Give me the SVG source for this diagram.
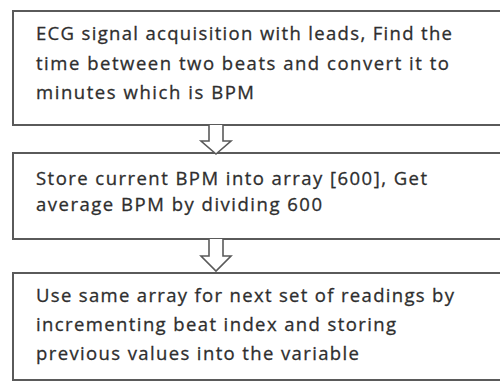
<svg xmlns="http://www.w3.org/2000/svg" width="500" height="381" viewBox="0 0 500 381">
<style>
.box{fill:#fff;stroke:#5a5a5a;stroke-width:2}
.arr{fill:#fff;stroke:#5a5a5a;stroke-width:1.6;stroke-linejoin:miter}
text{font-family:"Open Sans","Liberation Sans",Arial,sans-serif;font-size:18.5px;fill:#2e2e2e;stroke:#2e2e2e;stroke-width:0.3}
</style>
<rect width="500" height="381" fill="#fff"/>
<g id="node1">
<rect class="box" x="13" y="11" width="500" height="114"/>
<text x="36" y="40" textLength="416" lengthAdjust="spacing">ECG signal acquisition with leads, Find the</text>
<text x="36" y="70" textLength="413" lengthAdjust="spacing">time between two beats and convert it to</text>
<text x="36" y="99" textLength="218" lengthAdjust="spacing">minutes which is BPM</text>
</g>
<g id="node2">
<rect class="box" x="13" y="153" width="500" height="86"/>
<text x="36" y="185" textLength="391" lengthAdjust="spacing">Store current BPM into array [600], Get</text>
<text x="36" y="211" textLength="286" lengthAdjust="spacing">average BPM by dividing 600</text>
</g>
<g id="node3">
<rect class="box" x="13" y="273" width="500" height="107"/>
<text x="36" y="302" textLength="418" lengthAdjust="spacing">Use same array for next set of readings by</text>
<text x="36" y="331" textLength="360" lengthAdjust="spacing">incrementing beat index and storing</text>
<text x="36" y="360" textLength="323" lengthAdjust="spacing">previous values into the variable</text>
</g>
<g id="connectors">
<path class="arr" d="M209,125 V141 H201 L216,154 L231,141 H223 V125"/>
<path class="arr" d="M209,239 V256 H201 L216,271 L231,256 H223 V239"/>
</g>
</svg>
